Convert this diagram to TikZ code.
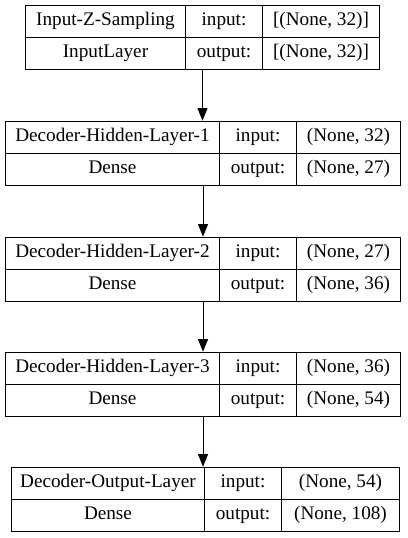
\documentclass[tikz,border=0pt]{standalone}
\usepackage{fontspec}
\setmainfont{Liberation Serif}
\usepackage{tikz}
\usetikzlibrary{arrows.meta, positioning, fit}
\tikzset{
  cell/.style={
    rectangle, draw=black, line width=0.75pt,
    minimum width=#1*0.75pt, minimum height=24pt,
    inner sep=0pt, anchor=north west,
    text height=9.6pt, text depth=3.2pt,
    font=\fontsize{14.4}{16}\selectfont, text=black
  },
  layerbox/.style={inner sep=0pt, draw=none},
  kerasarrow/.style={-{Triangle[length=9.5pt, width=7.5pt]}, line width=0.75pt, black},
}

\begin{document}
\begin{tikzpicture}[x=0.75pt, y=-0.75pt]
      \useasboundingbox (0,0) rectangle (407,538);
      % layer 1
      \node[cell=160](l1name)   at (25,5)   {Input-Z-Sampling};
      \node[cell=77] (l1inlab)  at (185,5)  {input:};
      \node[cell=117](l1in)     at (262,5)  {[(None, 32)]};
      \node[cell=160](l1type)   at (25,37)  {InputLayer};
      \node[cell=77] (l1outlab) at (185,37) {output:};
      \node[cell=117](l1out)    at (262,37) {[(None, 32)]};
      \node[layerbox, fit=(l1name)(l1out)](l1){};
      % layer 2
      \node[cell=214](l2name)   at (5,121)   {Decoder-Hidden-Layer-1};
      \node[cell=77] (l2inlab)  at (219,121) {input:};
      \node[cell=104](l2in)     at (296,121) {(None, 32)};
      \node[cell=214](l2type)   at (5,153)   {Dense};
      \node[cell=77] (l2outlab) at (219,153) {output:};
      \node[cell=104](l2out)    at (296,153) {(None, 27)};
      \node[layerbox, fit=(l2name)(l2out)](l2){};
      % layer 3
      \node[cell=214](l3name)   at (5,237)   {Decoder-Hidden-Layer-2};
      \node[cell=77] (l3inlab)  at (219,237) {input:};
      \node[cell=104](l3in)     at (296,237) {(None, 27)};
      \node[cell=214](l3type)   at (5,269)   {Dense};
      \node[cell=77] (l3outlab) at (219,269) {output:};
      \node[cell=104](l3out)    at (296,269) {(None, 36)};
      \node[layerbox, fit=(l3name)(l3out)](l3){};
      % layer 4
      \node[cell=214](l4name)   at (5,352)   {Decoder-Hidden-Layer-3};
      \node[cell=77] (l4inlab)  at (219,352) {input:};
      \node[cell=104](l4in)     at (296,352) {(None, 36)};
      \node[cell=214](l4type)   at (5,384)   {Dense};
      \node[cell=77] (l4outlab) at (219,384) {output:};
      \node[cell=104](l4out)    at (296,384) {(None, 54)};
      \node[layerbox, fit=(l4name)(l4out)](l4){};
      % layer 5
      \node[cell=193](l5name)   at (11,467)  {Decoder-Output-Layer};
      \node[cell=77] (l5inlab)  at (204,467) {input:};
      \node[cell=118](l5in)     at (281,467) {(None, 54)};
      \node[cell=193](l5type)   at (11,499)  {Dense};
      \node[cell=77] (l5outlab) at (204,499) {output:};
      \node[cell=118](l5out)    at (281,499) {(None, 108)};
      \node[layerbox, fit=(l5name)(l5out)](l5){};
      \draw[kerasarrow](l1.south)--(l1.south |- l2.north);
      \draw[kerasarrow](l2.south)--(l2.south |- l3.north);
      \draw[kerasarrow](l3.south)--(l3.south |- l4.north);
      \draw[kerasarrow](l4.south)--(l4.south |- l5.north);
    \end{tikzpicture}
\end{document}
